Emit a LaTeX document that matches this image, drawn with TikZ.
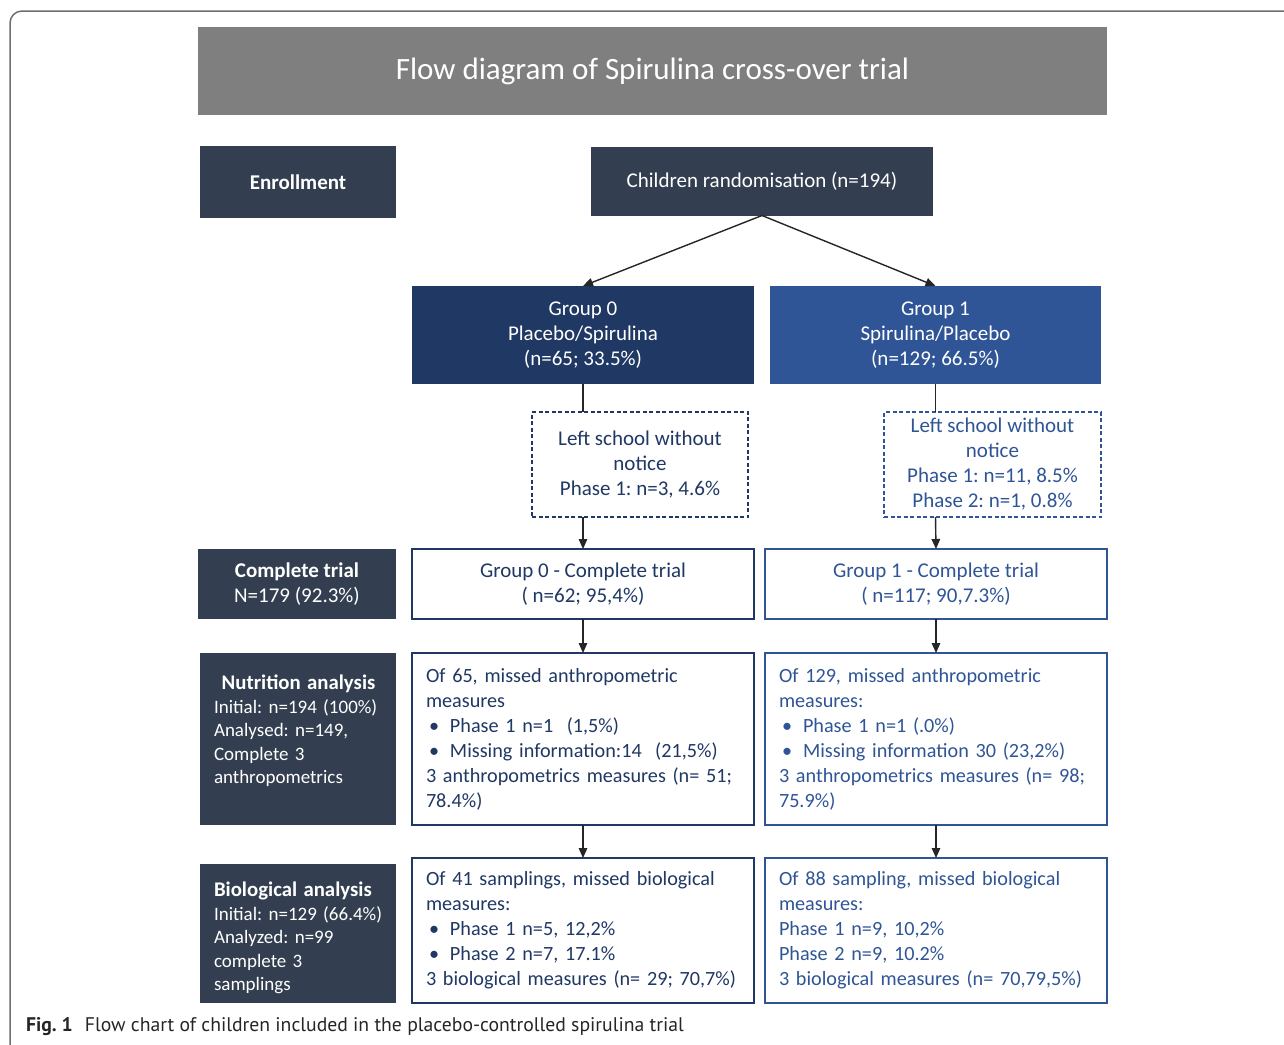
\documentclass[tikz,border=0pt]{standalone}
\usepackage{fontspec}
\setmainfont{Carlito}
\newfontfamily\capfont{PT Sans}
\usetikzlibrary{arrows.meta}
\definecolor{slate}{HTML}{333F50}
\definecolor{navy}{HTML}{203864}
\definecolor{blueg}{HTML}{2F5597}
\definecolor{titlegray}{HTML}{7F7F7F}
\definecolor{framegray}{HTML}{6E6E6E}
\definecolor{arrowc}{HTML}{262626}
\newcommand\bulitem{\makebox[24pt][l]{\hspace{3pt}•}}
\frenchspacing
\begin{document}
\begin{tikzpicture}[x=1pt,y=-1pt,
  every node/.style={inner sep=0pt, outer sep=0pt},
  fnt/.style={font=\fontsize{21}{25}\selectfont},
  lfnt/.style={font=\fontsize{20.2}{25}\selectfont},
  sfnt/.style={font=\fontsize{19}{23.5}\selectfont},
  dark/.style={fill=slate, text=white, fnt, align=center},
  solid0/.style={fill=navy, text=white, fnt, align=center},
  solid1/.style={fill=blueg, text=white, fnt, align=center},
  ob0/.style={draw=navy, fill=white, line width=1.6pt, text=navy, fnt},
  ob1/.style={draw=blueg, fill=white, line width=1.6pt, text=blueg, fnt},
  left0/.style={ob0, lfnt, text width=314pt, align=left},
  left1/.style={ob1, lfnt, text width=314pt, align=left},
  dbox/.style={dash pattern=on 4pt off 2.5pt, line width=1.4pt, align=center},
  lbltext/.style={text=white, sfnt, text width=180pt, align=left},
  conn/.style={draw=arrowc, line width=1.4pt},
  arr/.style={conn, -{Triangle[length=10pt,width=8.5pt]}},
]
\clip (0,0) rectangle (1284,1044);
\fill[white] (0,0) rectangle (1284,1044);
\draw[framegray, line width=1.5pt, rounded corners=12pt] (10,11) rectangle (1320,1058);

% title
\node[fill=titlegray, text=white, font=\fontsize{31}{36}\selectfont,
  minimum width=909pt, minimum height=88pt] (title) at (652.5,71) {\raisebox{-3pt}{Flow diagram of Spirulina cross-over trial}};

% left labels
\node[dark, minimum width=196pt, minimum height=72pt, font=\fontsize{21}{25}\selectfont\bfseries] (enr) at (298,182) {Enrollment};
\node[dark, minimum width=198pt, minimum height=70pt] (ctl) at (297,584) {\textbf{Complete trial}\\N=179 (92.3\%)};
\node[dark, minimum width=196pt, minimum height=172pt] (nutl) at (298,739) {};
\node[lbltext, anchor=north west] (nutt) at (214,675) {\makebox[169pt]{\fontsize{20.8}{24}\selectfont\bfseries Nutrition analysis}\\Initial: n=194 (100\%)\\Analysed: n=149,\\Complete 3\\anthropometrics};
\node[dark, minimum width=196pt, minimum height=139pt] (biol) at (298,933.5) {};
\node[lbltext, anchor=north west] (biot) at (214,882) {{\fontsize{20.8}{24}\selectfont\bfseries Biological analysis}\\Initial: n=129 (66.4\%)\\Analyzed: n=99\\complete 3\\samplings};

% randomisation and groups
\node[dark, minimum width=342pt, minimum height=69pt] (rand) at (762,181) {Children randomisation (n=194)};
\node[solid0, minimum width=342pt, minimum height=98pt] (g0) at (583,335) {Group 0\\Placebo/Spirulina\\(n=65; 33.5\%)};
\node[solid1, minimum width=331pt, minimum height=98pt] (g1) at (935.5,335) {Group 1\\Spirulina/Placebo\\(n=129; 66.5\%)};

% dashed
\node[ob0, dbox, minimum width=216pt, minimum height=105pt] (d0) at (640,464.5) {Left school without\\notice\\Phase 1: n=3, 4.6\%};
\node[ob1, dbox, minimum width=217pt, minimum height=105pt] (d1) at (992.5,464.5) {Left school without\\notice\\Phase 1: n=11, 8.5\%\\Phase 2: n=1, 0.8\%};

% complete trial
\node[ob0, align=center, minimum width=342pt, minimum height=70pt] (ct0) at (583,584) {Group 0 - Complete trial\\( n=62; 95,4\%)};
\node[ob1, align=center, minimum width=342pt, minimum height=70pt] (ct1) at (936,584) {Group 1 - Complete trial\\( n=117; 90,7.3\%)};

% nutrition
\node[left0, minimum width=342pt, minimum height=172pt] (n0) at (583,739) {Of 65, missed anthropometric\\measures\\\bulitem Phase 1 n=1~~(1,5\%)\\\bulitem Missing information:14~~(21,5\%)\\3 anthropometrics measures (n= 51;\\78.4\%)};
\node[left1, minimum width=342pt, minimum height=172pt] (n1) at (936,739) {Of 129, missed anthropometric\\measures:\\\bulitem Phase 1 n=1 (.0\%)\\\bulitem Missing information 30 (23,2\%)\\3 anthropometrics measures (n= 98;\\75.9\%)};

% biological
\node[left0, minimum width=342pt, minimum height=145pt] (b0) at (583,930.5) {Of 41 samplings, missed biological\\measures:\\\bulitem Phase 1 n=5, 12,2\%\\\bulitem Phase 2 n=7, 17.1\%\\3 biological measures (n= 29; 70,7\%)};
\node[left1, minimum width=342pt, minimum height=145pt] (b1) at (936,930.5) {Of 88 sampling, missed biological\\measures:\\Phase 1 n=9, 10,2\%\\Phase 2 n=9, 10.2\%\\3 biological measures (n= 70,79,5\%)};

% connectors
\draw[arr] (rand.south) -- (g0.north);
\draw[arr] (rand.south) -- (g1.north);
\draw[conn] (g0.south) -- (g0.south |- d0.north);
\draw[conn] (g1.south) -- (g1.south |- d1.north);
\draw[arr] (g0.south |- d0.south) -- (ct0.north);
\draw[arr] (g1.south |- d1.south) -- (ct1.north);
\draw[arr] (ct0.south) -- (n0.north);
\draw[arr] (ct1.south) -- (n1.north);
\draw[arr] (n0.south) -- (b0.north);
\draw[arr] (n1.south) -- (b1.north);

% caption
\node[anchor=base west, font=\capfont\fontsize{19.7}{23}\selectfont, text=black!85] (cap) at (26,1031) {\textbf{Fig. 1}\hspace{12pt}Flow chart of children included in the placebo-controlled spirulina trial};
\end{tikzpicture}
\end{document}
